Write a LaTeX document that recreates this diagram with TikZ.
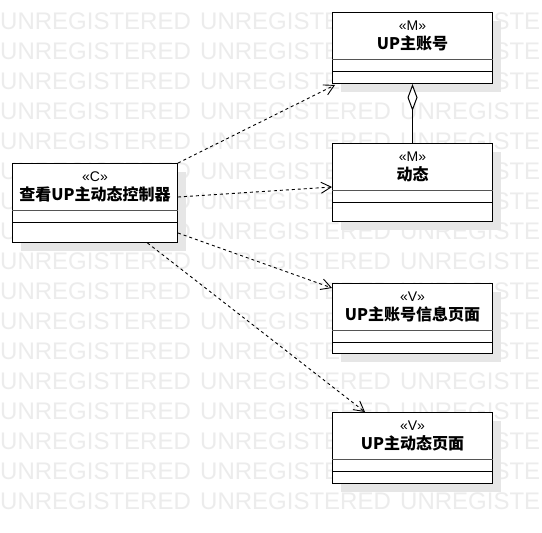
\documentclass[tikz,border=0pt]{standalone}
\usepackage{fontspec}
\setmainfont{Liberation Sans}
\newfontfamily\cjk{Noto Sans CJK SC}
\usetikzlibrary{arrows.meta,shadows}
\definecolor{wm}{RGB}{236,236,236}
\definecolor{shd}{RGB}{230,230,230}
\definecolor{divc}{RGB}{85,85,85}
\newcommand\umlcls[7]{%
  \node[classbox, minimum width=#4pt, minimum height=#5pt] (#1) at (#2,#3) {};
  \draw[divA] ([yshift=-47.5pt]#1.north west) -- ([yshift=-47.5pt]#1.north east);
  \draw[divB] ([yshift=-59.5pt]#1.north west) -- ([yshift=-59.5pt]#1.north east);
  \node[stereotxt] (#1-st) at ([yshift=-18.5pt]#1.north) {«#6»};
  \node[titletxt] (#1-tt) at ([yshift=-37.5pt]#1.north) {#7};
}
\begin{document}
\begin{tikzpicture}[x=1pt,y=-1pt,
  wmtext/.style={inner sep=0pt,anchor=base west,text=wm,font=\fontsize{24}{24}\selectfont},
  classbox/.style={draw=black,line width=1pt,fill=white,rectangle,inner sep=0pt,anchor=north west,
    drop shadow={shadow xshift=8pt,shadow yshift=-8pt,fill=shd,opacity=1}},
  divA/.style={draw=divc,line width=1.6pt},
  divB/.style={draw=black,line width=1pt},
  stereotxt/.style={inner sep=0pt,anchor=base,font=\fontsize{14}{16}\selectfont},
  titletxt/.style={inner sep=0pt,anchor=base,font=\cjk\bfseries\fontsize{16}{19}\selectfont},
  dep/.style={draw=black,line width=0.9pt,dash pattern=on 3pt off 3pt,
    -{Straight Barb[length=10pt,width=11pt]}},
  aggr/.style={draw=black,line width=1pt,-{Diamond[open,fill=white,length=27pt,width=10pt]}}
]
\useasboundingbox (0,0) rectangle (542,533);
\fill[white] (0,0) rectangle (542,533);
\foreach \r in {0,...,16}{
  \foreach \c in {0,1,2}{
    \node[wmtext] (wm-\r-\c) at (\c*200, 29.2+\r*30) {UNREGISTERED};
  }
}
\umlcls{acc}{332}{12}{160}{71}{M}{UP主账号}
\umlcls{dyn}{332}{143}{160}{78}{M}{动态}
\umlcls{info}{332}{283}{160}{70}{V}{UP主账号信息页面}
\umlcls{dpage}{332}{412}{160}{71}{V}{UP主动态页面}
\umlcls{ctrl}{12}{163}{165}{79}{C}{查看UP主动态控制器}
\draw[aggr] (dyn.north) -- (acc.south);
\draw[dep] (ctrl.north east) -- ([xshift=3pt,yshift=-1pt]acc.south west);
\draw[dep] ([yshift=6pt]ctrl.east) -- ([yshift=-4.5pt]dyn.west);
\draw[dep] ([yshift=-30pt]ctrl.east) -- ([yshift=-5pt]info.north west);
\draw[dep] ([xshift=52.5pt]ctrl.south) -- ([xshift=33pt]dpage.north west);
\end{tikzpicture}
\end{document}
